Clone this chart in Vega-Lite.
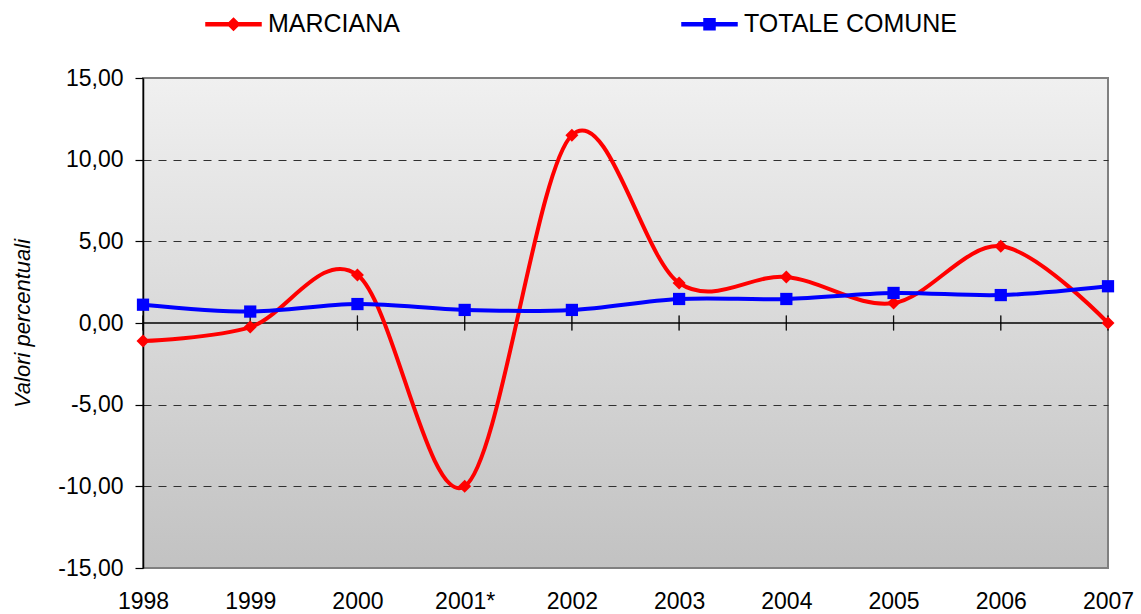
{
  "$schema": "https://vega.github.io/schema/vega-lite/v6.json",
  "autosize": "none",
  "width": 965,
  "height": 490,
  "padding": {"left": 143, "top": 78, "right": 33, "bottom": 46},
  "background": "white",
  "config": {
    "font": "Liberation Sans",
    "view": {
      "stroke": "#808080",
      "strokeWidth": 2,
      "fill": {"gradient": "linear", "x1": 0, "y1": 0, "x2": 0, "y2": 1,
        "stops": [{"offset": 0, "color": "#f0f0f0"}, {"offset": 1, "color": "#c2c2c2"}]}
    }
  },
  "data": {"values": [
    {"anno": "1998", "serie": "MARCIANA", "valore": -1.1},
    {"anno": "1999", "serie": "MARCIANA", "valore": -0.25},
    {"anno": "2000", "serie": "MARCIANA", "valore": 2.94},
    {"anno": "2001*", "serie": "MARCIANA", "valore": -10.0},
    {"anno": "2002", "serie": "MARCIANA", "valore": 11.5},
    {"anno": "2003", "serie": "MARCIANA", "valore": 2.45},
    {"anno": "2004", "serie": "MARCIANA", "valore": 2.82},
    {"anno": "2005", "serie": "MARCIANA", "valore": 1.22},
    {"anno": "2006", "serie": "MARCIANA", "valore": 4.7},
    {"anno": "2007", "serie": "MARCIANA", "valore": 0.0},
    {"anno": "1998", "serie": "TOTALE COMUNE", "valore": 1.12},
    {"anno": "1999", "serie": "TOTALE COMUNE", "valore": 0.7},
    {"anno": "2000", "serie": "TOTALE COMUNE", "valore": 1.16},
    {"anno": "2001*", "serie": "TOTALE COMUNE", "valore": 0.8},
    {"anno": "2002", "serie": "TOTALE COMUNE", "valore": 0.8},
    {"anno": "2003", "serie": "TOTALE COMUNE", "valore": 1.47},
    {"anno": "2004", "serie": "TOTALE COMUNE", "valore": 1.47},
    {"anno": "2005", "serie": "TOTALE COMUNE", "valore": 1.84},
    {"anno": "2006", "serie": "TOTALE COMUNE", "valore": 1.71},
    {"anno": "2007", "serie": "TOTALE COMUNE", "valore": 2.25}
  ]},
  "encoding": {
    "x": {
      "field": "anno", "type": "ordinal", "sort": null,
      "scale": {"type": "point", "padding": 0},
      "axis": {
        "title": null, "domain": false, "ticks": false, "grid": false,
        "labelAngle": 0, "labelFontSize": 23, "labelColor": "#000000",
        "labelPadding": 22, "labelFont": "Liberation Sans"
      }
    }
  },
  "layer": [
    {
      "data": {"values": [{"z": 0}]},
      "mark": {"type": "rule", "color": "#000000", "strokeWidth": 1.5},
      "encoding": {"x": null, "y": {"field": "z", "type": "quantitative"}}
    },
    {
      "mark": {"type": "tick", "orient": "vertical", "color": "#000000", "size": 15, "thickness": 1.2},
      "encoding": {
        "y": {"datum": 0, "type": "quantitative"}
      }
    },
    {
      "mark": {"type": "line", "interpolate": "cardinal", "tension": 0, "strokeWidth": 4},
      "encoding": {
        "y": {
          "field": "valore", "type": "quantitative",
          "scale": {"domain": [-15, 15], "nice": false, "zero": false},
          "axis": {
            "values": [-15, -10, -5, 0, 5, 10, 15],
            "title": "Valori percentuali",
            "titleFontStyle": "italic", "titleFontWeight": "normal",
            "titleFontSize": 22, "titleColor": "#000000", "titleFont": "Liberation Sans",
            "titleX": -121, "titleY": 245, "titleBaseline": "middle", "titleAngle": -90,
            "labelExpr": "(datum.value < 0 ? '-' : '') + replace(format(abs(datum.value), '.2f'), '.', ',')",
            "labelFontSize": 23, "labelColor": "#000000", "labelFont": "Liberation Sans",
            "labelPadding": 12,
            "domain": true, "domainColor": "#000000", "domainWidth": 1.5,
            "ticks": true, "tickColor": "#000000", "tickSize": 8, "tickWidth": 1.2,
            "grid": true, "gridColor": "#303030", "gridDash": [8, 7], "gridWidth": 1.2,
            "gridOpacity": {"condition": {"test": "abs(datum.value) == 15 || datum.value == 0", "value": 0}, "value": 1}
          }
        },
        "color": {
          "field": "serie", "type": "nominal",
          "scale": {"domain": ["MARCIANA", "TOTALE COMUNE"], "range": ["#ff0000", "#0000ff"]},
          "legend": {
            "title": null, "orient": "none", "direction": "horizontal",
            "legendX": 62, "legendY": -82.5,
            "symbolSize": 3025, "symbolOpacity": 1, "labelOffset": 6, "columnPadding": 279,
            "labelFontSize": 25, "labelColor": "#000000", "labelFont": "Liberation Sans",
            "labelBaseline": "middle", "labelLimit": 500
          }
        }
      }
    },
    {
      "mark": {"type": "point", "filled": true, "opacity": 0, "size": 3025},
      "encoding": {
        "y": {"field": "valore", "type": "quantitative"},
        "color": {"field": "serie", "type": "nominal"},
        "shape": {
          "field": "serie", "type": "nominal",
          "scale": {"domain": ["MARCIANA", "TOTALE COMUNE"], "range": [
            "M-1,-0.055L1,-0.055L1,0.055L-1,0.055Z M0,-0.22L0.22,0L0,0.22L-0.22,0Z",
            "M-1,-0.055L1,-0.055L1,0.055L-1,0.055Z M-0.2,-0.2L0.2,-0.2L0.2,0.2L-0.2,0.2Z"
          ]},
          "legend": null
        }
      }
    },
    {
      "transform": [{"filter": "datum.serie === 'MARCIANA'"}],
      "mark": {"type": "point", "filled": true, "opacity": 1, "shape": "diamond", "color": "#ff0000", "size": 170},
      "encoding": {
        "y": {"field": "valore", "type": "quantitative"}
      }
    },
    {
      "transform": [{"filter": "datum.serie === 'TOTALE COMUNE'"}],
      "mark": {"type": "point", "filled": true, "opacity": 1, "shape": "square", "color": "#0000ff", "size": 150},
      "encoding": {
        "y": {"field": "valore", "type": "quantitative"}
      }
    }
  ]
}
